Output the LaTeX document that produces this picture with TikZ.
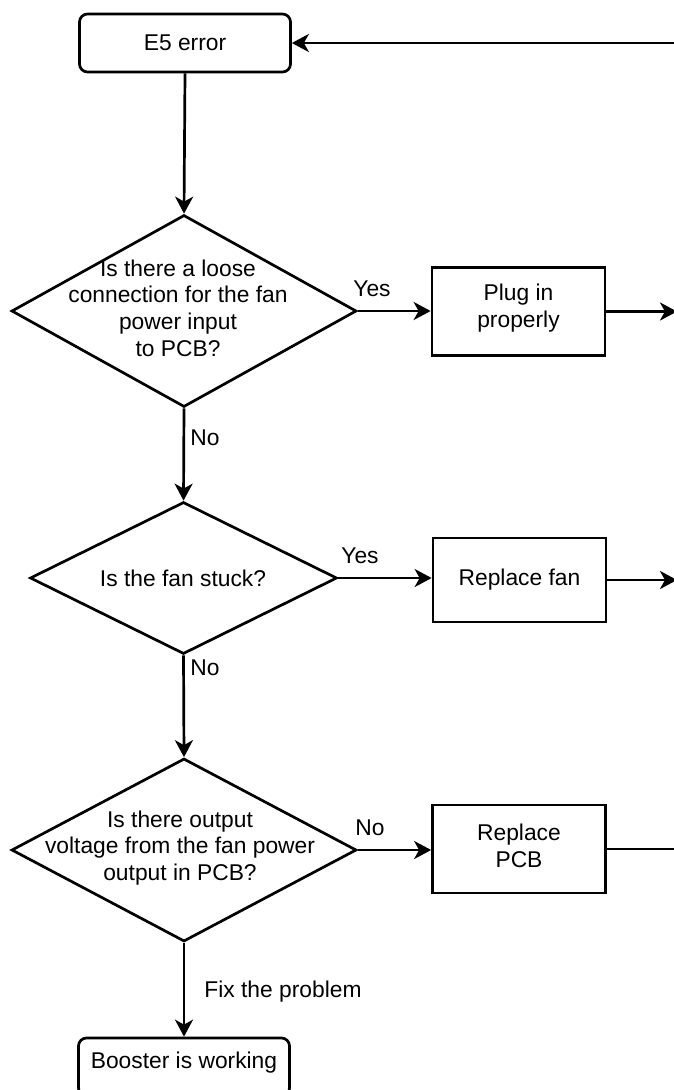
\documentclass[tikz,border=0pt]{standalone}
\usepackage{fontspec}
\setmainfont{Liberation Sans}
\usetikzlibrary{shapes.geometric,arrows.meta}
\begin{document}
\begin{tikzpicture}[x=1pt,y=-1pt,
 line width=2.7pt,
 every node/.style={font=\fontsize{22.8}{26.7}\selectfont, inner sep=0pt},
 txt/.style={align=center},
 rbox/.style={draw, rounded corners=8pt, minimum width=211pt, minimum height=58pt},
 pbox/.style={draw, minimum width=173pt},
 dia/.style={draw, diamond},
 arr/.style={-{Stealth[length=17pt,width=18pt,inset=5pt]}}
]
\useasboundingbox (0,0) rectangle (674,1090);
\clip (0,0) rectangle (674,1090);

% nodes
\node[rbox] (e5) at (185,43) {E5 error};
\node[dia, minimum width=345pt, minimum height=192pt] (d1) at (184,311) {};
\node[txt] (t1) at (178,308) {Is there a loose\\connection for the fan\\power input\\to PCB?};
\node[pbox, minimum height=88pt] (b1) at (518.5,311.5) {};
\node[txt] (bt1) at (518.5,308) {Plug in\\properly};

\node[dia, minimum width=307pt, minimum height=152pt] (d2) at (183.5,578) {};
\node[txt] (t2) at (183,578) {Is the fan stuck?};
\node[pbox, minimum height=84pt] (b2) at (519.5,580) {Replace fan};

\node[dia, minimum width=345pt, minimum height=183pt] (d3) at (184,850) {};
\node[txt] (t3) at (180,848) {Is there output\\voltage from the fan power\\output in PCB?};
\node[pbox, minimum height=88pt] (b3) at (519,849) {};
\node[txt] (bt3) at (519,846) {Replace\\PCB};

\node[rbox] (bw) at (184,1067) {};
\node (bwt) at (184,1063) {Booster is working};

% free ends at the right edge
\coordinate (rt) at (690,43);
\coordinate (r1) at (677,311.5);
\coordinate (r2) at (677,580);
\coordinate (r3) at (690,849);

% connectors
\draw[arr] (rt) -- (e5.east);
\draw[arr] (e5.south) -- (d1.north);
\draw[arr] (d1.east) -- (d1.east -| b1.west);
\draw[arr] (b1.east) -- (r1);
\draw[arr] (d1.south) -- (d2.north);
\draw[arr] (d2.east) -- (d2.east -| b2.west);
\draw[arr] (b2.east) -- (r2);
\draw[arr] (d2.south) -- (d3.north);
\draw[arr] (d3.east) -- (d3.east -| b3.west);
\draw (b3.east) -- (r3);
\draw[arr] (d3.south) -- (bw.north);

% labels
\node (l1) at (372,289) {Yes};
\node (l2) at (205,438) {No};
\node (l3) at (360,556) {Yes};
\node (l4) at (205,668) {No};
\node (l5) at (370,828) {No};
\node (l6) at (283,992) {Fix the problem};
\end{tikzpicture}
\end{document}
